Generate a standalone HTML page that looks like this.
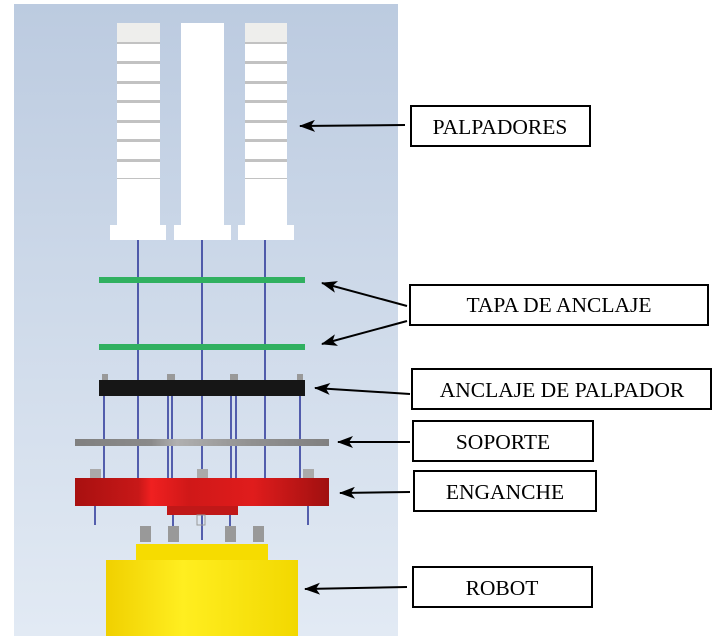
<!DOCTYPE html>
<html><head><meta charset="utf-8"><style>
html,body{margin:0;padding:0;background:#fff;width:721px;height:641px;overflow:hidden}
svg{display:block}
text{font-family:"Liberation Serif",serif;font-size:21.5px;fill:#000}
</style></head><body>
<svg width="721" height="641" viewBox="0 0 721 641">
<defs>
<linearGradient id="bg" x1="0" y1="0" x2="0" y2="1"><stop offset="0" stop-color="#bccbe0"/><stop offset="1" stop-color="#e2eaf4"/></linearGradient>
<linearGradient id="red" x1="0" y1="0" x2="1" y2="0"><stop offset="0" stop-color="#a81010"/><stop offset="0.25" stop-color="#c81818"/><stop offset="0.3" stop-color="#f02020"/><stop offset="0.45" stop-color="#d01818"/><stop offset="0.7" stop-color="#e01c1c"/><stop offset="1" stop-color="#a01010"/></linearGradient>
<linearGradient id="gray" x1="0" y1="0" x2="1" y2="0"><stop offset="0" stop-color="#808080"/><stop offset="0.3" stop-color="#8a8a8a"/><stop offset="0.4" stop-color="#b0b0b0"/><stop offset="0.7" stop-color="#909090"/><stop offset="1" stop-color="#808080"/></linearGradient>
<linearGradient id="yel" x1="0" y1="0" x2="1" y2="0"><stop offset="0" stop-color="#f0d000"/><stop offset="0.4" stop-color="#ffee20"/><stop offset="1" stop-color="#f2d800"/></linearGradient>
<marker id="ah" markerWidth="16" markerHeight="12" refX="15" refY="6" orient="auto" markerUnits="userSpaceOnUse"><path d="M0,0 L16,6 L0,12 L4,6 Z" fill="#000"/></marker>
</defs>
<rect x="14" y="4" width="384" height="632" fill="url(#bg)"/>
<g fill="#fff">
<rect x="117" y="23" width="43" height="202"/><rect x="110" y="225" width="56" height="15"/>
<rect x="181" y="23" width="43" height="202"/><rect x="174" y="225" width="57" height="15"/>
<rect x="245" y="23" width="42" height="202"/><rect x="238" y="225" width="56" height="15"/>
</g>
<rect x="117" y="23" width="43" height="19" fill="#eeeeec"/><rect x="245" y="23" width="42" height="19" fill="#eeeeec"/>
<g fill="#c2c2c2">
<rect x="117" y="42" width="43" height="2"/><rect x="117" y="61" width="43" height="3"/><rect x="117" y="81" width="43" height="3"/><rect x="117" y="100" width="43" height="3"/><rect x="117" y="120" width="43" height="3"/><rect x="117" y="139" width="43" height="3"/><rect x="117" y="159" width="43" height="3"/><rect x="117" y="178" width="43" height="1"/>
<rect x="245" y="42" width="42" height="2"/><rect x="245" y="61" width="42" height="3"/><rect x="245" y="81" width="42" height="3"/><rect x="245" y="100" width="42" height="3"/><rect x="245" y="120" width="42" height="3"/><rect x="245" y="139" width="42" height="3"/><rect x="245" y="159" width="42" height="3"/><rect x="245" y="178" width="42" height="1"/>
</g>
<g stroke="#1a2590" stroke-width="1.4">
<line x1="138" y1="240" x2="138" y2="478"/><line x1="202" y1="240" x2="202" y2="540"/><line x1="265" y1="240" x2="265" y2="478"/>
<line x1="104" y1="396" x2="104" y2="478"/><line x1="168" y1="396" x2="168" y2="478"/><line x1="172" y1="396" x2="172" y2="478"/>
<line x1="231" y1="396" x2="231" y2="478"/><line x1="236" y1="396" x2="236" y2="478"/><line x1="300" y1="396" x2="300" y2="478"/>
<line x1="95" y1="506" x2="95" y2="525"/><line x1="308" y1="506" x2="308" y2="525"/>
<line x1="173" y1="515" x2="173" y2="530"/><line x1="230" y1="515" x2="230" y2="530"/>
</g>
<rect x="99" y="277" width="206" height="6" fill="#30b060"/>
<rect x="99" y="344" width="206" height="6" fill="#30b060"/>
<g fill="#999"><rect x="102" y="374" width="6" height="6"/><rect x="167" y="374" width="8" height="6"/><rect x="230" y="374" width="8" height="6"/><rect x="297" y="374" width="6" height="6"/></g>
<rect x="99" y="380" width="206" height="16" fill="#161616"/>
<rect x="75" y="439" width="254" height="7" fill="url(#gray)"/>
<g fill="#aaa"><rect x="90" y="469" width="11" height="9"/><rect x="197" y="469" width="11" height="9"/><rect x="303" y="469" width="11" height="9"/></g>
<rect x="75" y="478" width="254" height="28" fill="url(#red)"/>
<rect x="167" y="506" width="71" height="9" fill="#c01818"/>
<rect x="197" y="515" width="8" height="10" fill="none" stroke="#999" stroke-width="1"/>
<g fill="#999"><rect x="140" y="526" width="11" height="16"/><rect x="168" y="526" width="11" height="16"/><rect x="225" y="526" width="11" height="16"/><rect x="253" y="526" width="11" height="16"/></g>
<rect x="136" y="544" width="132" height="16" fill="#f6dc00"/>
<rect x="106" y="560" width="192" height="76" fill="url(#yel)"/>
<g fill="#fff" stroke="#000" stroke-width="2">
<rect x="411" y="106" width="179" height="40"/>
<rect x="410" y="285" width="298" height="40"/>
<rect x="412" y="369" width="299" height="40"/>
<rect x="413" y="421" width="180" height="40"/>
<rect x="414" y="471" width="182" height="40"/>
<rect x="413" y="567" width="179" height="40"/>
</g>
<text x="500" y="134" text-anchor="middle">PALPADORES</text>
<text x="559" y="312" text-anchor="middle">TAPA DE ANCLAJE</text>
<text x="562" y="397" text-anchor="middle">ANCLAJE DE PALPADOR</text>
<text x="503" y="449" text-anchor="middle">SOPORTE</text>
<text x="505" y="499" text-anchor="middle">ENGANCHE</text>
<text x="502" y="595" text-anchor="middle">ROBOT</text>
<g stroke="#000" stroke-width="2" fill="none" marker-end="url(#ah)">
<line x1="405" y1="125" x2="300" y2="126"/>
<line x1="407" y1="306" x2="322" y2="283"/>
<line x1="407" y1="321" x2="322" y2="344"/>
<line x1="410" y1="394" x2="315" y2="388"/>
<line x1="410" y1="442" x2="338" y2="442"/>
<line x1="410" y1="492" x2="340" y2="493"/>
<line x1="407" y1="587" x2="305" y2="589"/>
</g>
</svg>
</body></html>
